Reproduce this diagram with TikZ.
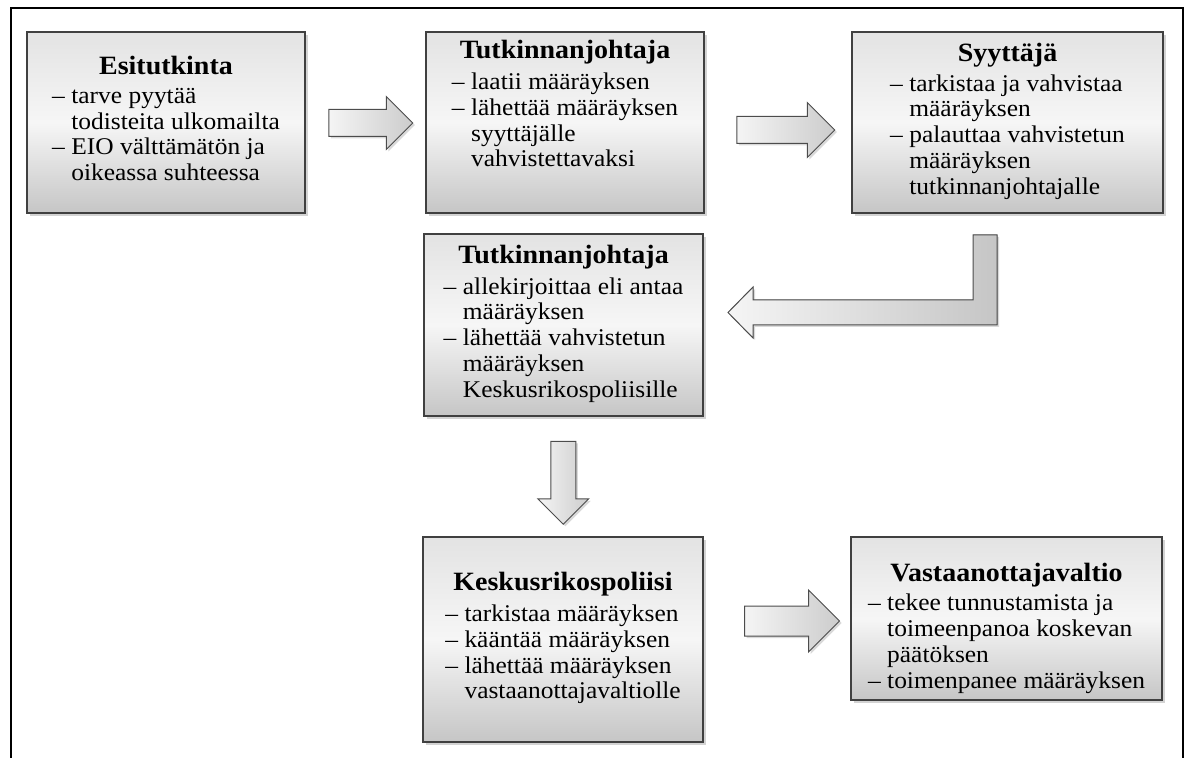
\documentclass[tikz,border=0pt]{standalone}
\usepackage{fontspec}
\setmainfont{Liberation Serif}[FakeStretch=1.06]
\usetikzlibrary{shapes.arrows,shadows,calc}

\newcommand{\ttl}[1]{{\fontsize{13.2}{14}\selectfont\bfseries #1}}
\newcommand{\dsh}{\makebox[0.8em][l]{--}}
\newcommand{\ind}{\hspace*{0.8em}}

\begin{document}
\begin{tikzpicture}[x=0.5pt,y=-0.5pt]
\tikzstyle{box}=[rectangle,draw=black!75,line width=0.7pt,top color=gray!22,bottom color=gray!45,middle color=gray!7,align=center,inner sep=0pt,font=\fontsize{12}{12.9}\selectfont,drop shadow={shadow xshift=1.5pt,shadow yshift=-1.5pt,opacity=0.35}]
\tikzstyle{barrow}=[single arrow,draw=black!70,line width=0.5pt,left color=gray!8,right color=gray!40,inner xsep=0pt,inner ysep=6.5pt,single arrow head extend=6.5pt,drop shadow={shadow xshift=1pt,shadow yshift=-1pt,opacity=0.3}]
\useasboundingbox (0,0) rectangle (1192,758);
% frame
\draw[line width=1.2pt] (11,758) -- (11,8) -- (1183,8) -- (1183,758);

% boxes
\node[box,minimum width=139pt,minimum height=90.5pt] (esi) at (166,122.5)
 {\ttl{Esitutkinta}\\[4pt]
  \begin{tabular}{@{}l@{}}\dsh tarve pyytää\\ \ind todisteita ulkomailta\\ \dsh EIO välttämätön ja\\ \ind oikeassa suhteessa\end{tabular}};
\node[box,minimum width=139pt,minimum height=90.5pt] (tj1) at (565,122.5)
 {\ttl{Tutkinnanjohtaja}\\[2.5pt]
  \begin{tabular}{@{}l@{}}\dsh laatii määräyksen\\ \dsh lähettää määräyksen\\ \ind syyttäjälle\\ \ind vahvistettavaksi\\[15pt]\end{tabular}};
\node[box,minimum width=155.5pt,minimum height=90.5pt] (syy) at (1007.5,122.5)
 {\ttl{Syyttäjä}\\[2pt]
  \begin{tabular}{@{}l@{}}\dsh tarkistaa ja vahvistaa\\ \ind määräyksen\\ \dsh palauttaa vahvistetun\\ \ind määräyksen\\ \ind tutkinnanjohtajalle\end{tabular}};
\node[box,minimum width=139.5pt,minimum height=91pt] (tj2) at (563.5,325)
 {\ttl{Tutkinnanjohtaja}\\[2.5pt]
  \begin{tabular}{@{}l@{}}\dsh allekirjoittaa eli antaa\\ \ind määräyksen\\ \dsh lähettää vahvistetun\\ \ind määräyksen\\ \ind Keskusrikospoliisille\end{tabular}};
\node[box,minimum width=140pt,minimum height=102.5pt] (kesk) at (563,639.5)
 {\ttl{Keskusrikospoliisi}\\[2.5pt]
  \begin{tabular}{@{}l@{}}\dsh tarkistaa määräyksen\\ \dsh kääntää määräyksen\\ \dsh lähettää määräyksen\\ \ind vastaanottajavaltiolle\end{tabular}};
\node[box,minimum width=155.5pt,minimum height=81.5pt] (vast) at (1006.5,618.5)
 {\ttl{\rule{0pt}{20pt}Vastaanottajavaltio}\\[2pt]
  \begin{tabular}{@{}l@{}}\dsh tekee tunnustamista ja\\ \ind toimeenpanoa koskevan\\ \ind päätöksen\\ \dsh toimenpanee määräyksen\end{tabular}};

% arrows
\node[barrow,minimum height=42pt] (a1) at (364,123) {};
\node[barrow,minimum height=49pt,single arrow head extend=7pt] (a2) at (779,130) {};
\node[barrow,minimum height=41.5pt,rotate=-90,inner ysep=6pt] (a4) at ($(tj2.south)!0.5!(kesk.north)$) {};
\node[barrow,minimum height=47.5pt,inner ysep=7.25pt,single arrow head extend=8pt] (a5) at (784.5,621) {};
% bent arrow from syy back to tj2
\coordinate (bt) at (985,235);
\filldraw[draw=black!70,line width=0.5pt,left color=gray!8,right color=gray!45,drop shadow={shadow xshift=1pt,shadow yshift=-1pt,opacity=0.3}]
 ($(bt)+(-12,0)$) -- ($(bt)+(12,0)$) -- (997,325) -- (753,325) -- (753,338) -- (728,312.5) -- (753,287) -- (753,300) -- (973,300) -- cycle;
\end{tikzpicture}
\end{document}
